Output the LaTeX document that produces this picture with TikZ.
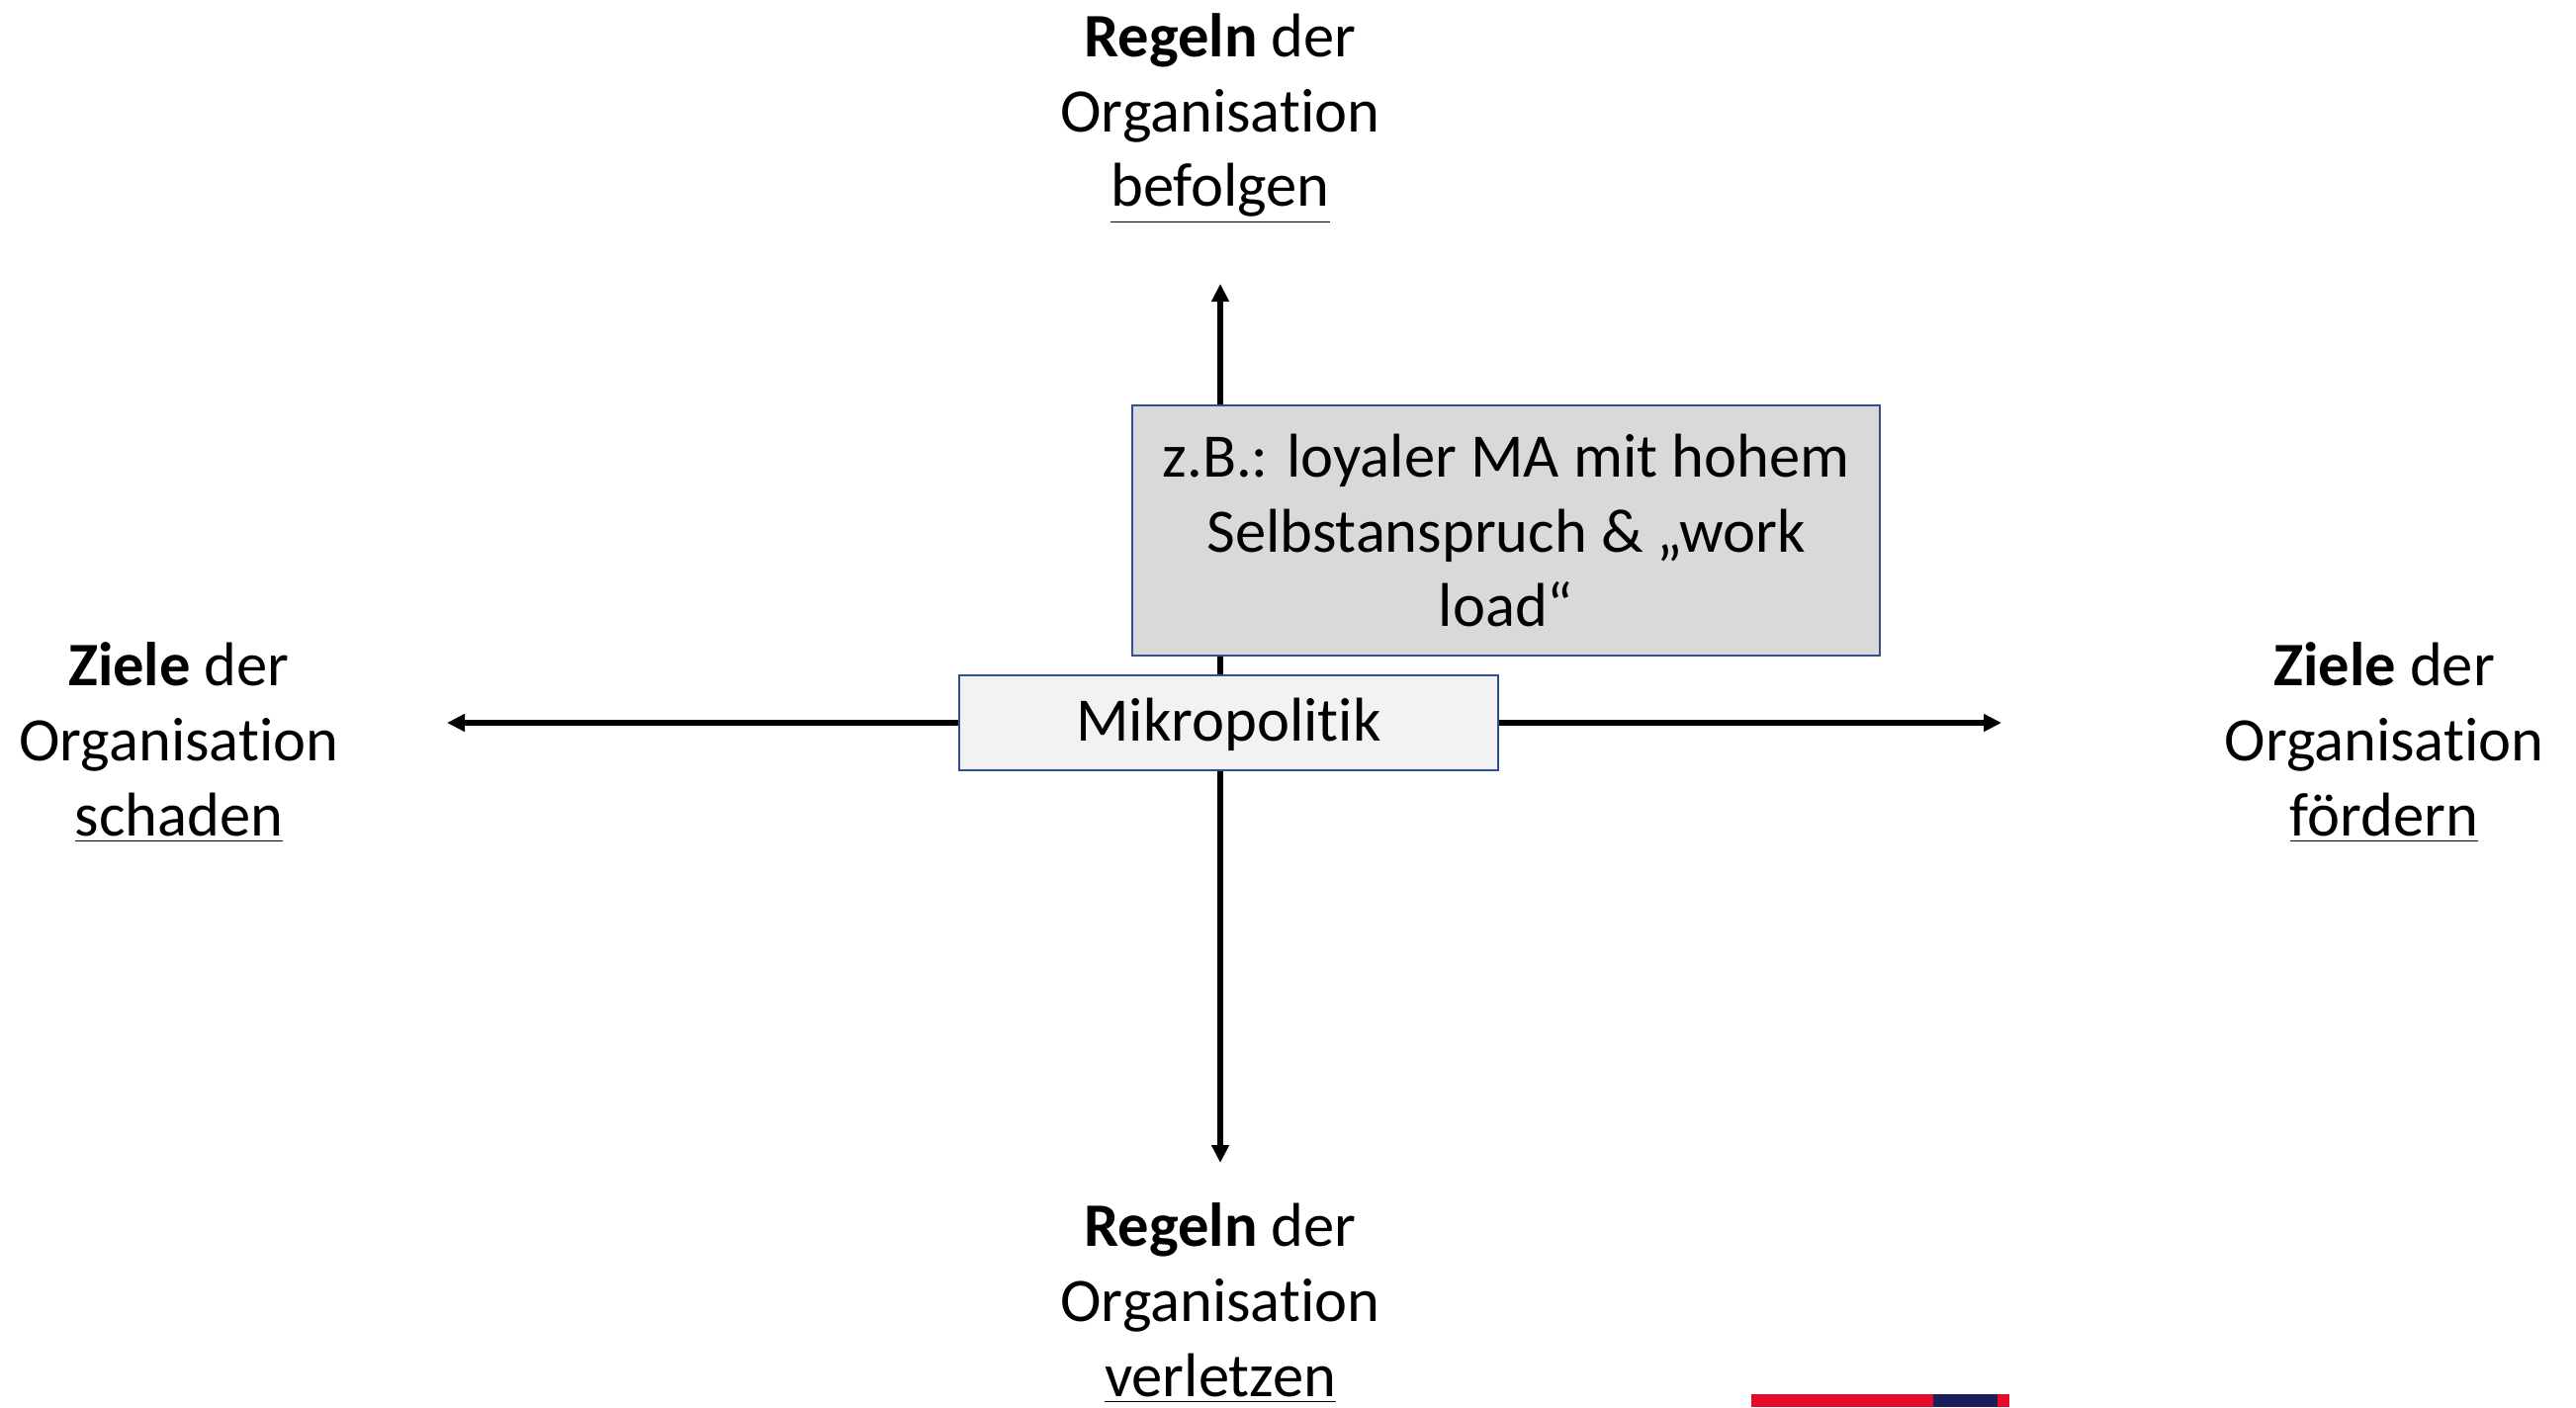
\documentclass[tikz,border=0pt]{standalone}
\usepackage{fontspec}
\setmainfont[Ligatures=NoCommon]{Carlito}
\usepackage{tikz}
\usetikzlibrary{arrows.meta, positioning}

\definecolor{boxblue}{HTML}{2F528F}
\definecolor{hsred}{HTML}{E30A2A}
\definecolor{hsnavy}{HTML}{1A1F5C}

\begin{document}
\begin{tikzpicture}[y=-1cm,
  axis/.style={-{Triangle[length=0.18cm, width=0.17cm]}, line width=1.5pt, black},
  pole label/.style={align=center, font=\fontsize{17.8}{21.6}\selectfont, inner sep=0pt},
  core box/.style={draw=boxblue, line width=0.6pt, fill=black!5, minimum width=5.45cm,
    minimum height=0.96cm, inner sep=0pt, text depth=1.7pt, font=\fontsize{17.8}{21.6}\selectfont},
  example box/.style={draw=boxblue, line width=0.6pt, fill=black!15, minimum width=7.56cm,
    minimum height=2.53cm, inner sep=0pt, align=center, font=\fontsize{17.8}{21.6}\selectfont}
]
  \useasboundingbox (0,0) rectangle (26.05,14.23);

  % axis ends
  \coordinate (cross) at (12.34,7.31);
  \coordinate (N) at (12.34,2.87);
  \coordinate (S) at (12.34,11.76);
  \coordinate (W) at (4.52,7.31);
  \coordinate (E) at (20.24,7.31);

  \foreach \dir in {N, S, W, E} {
    \draw[axis] (cross) -- (\dir);
  }

  % the four poles
  \node[pole label] (follow) at (12.34,1.20) {\textbf{Regeln} der\\Organisation\\\underline{befolgen}};
  \node[pole label] (break)  at (12.34,13.18) {\textbf{Regeln} der\\Organisation\\\underline{verletzen}};
  \node[pole label] (harm)   at (1.81,7.51) {\textbf{Ziele} der\\Organisation\\\underline{schaden}};
  \node[pole label] (foster) at (24.11,7.51) {\textbf{Ziele} der\\Organisation\\\underline{fördern}};

  % boxes
  \node[example box] (example) at (15.23,5.365) {z.B.: loyaler MA mit hohem\\Selbstanspruch \& „work\\load“};
  \node[core box] (micro) at (12.425,7.31) {Mikropolitik};

  % corner bar
  \fill[hsred] (17.71,14.10) rectangle (20.32,14.23);
  \fill[hsnavy] (19.55,14.10) rectangle (20.20,14.23);
\end{tikzpicture}
\end{document}
